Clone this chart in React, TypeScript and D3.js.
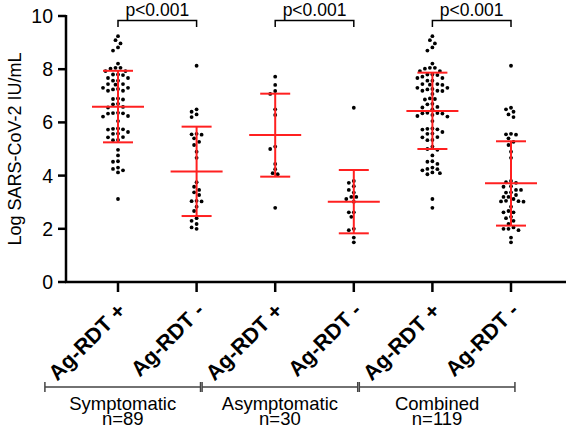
import React from "react";
import * as d3 from "d3";

const categories = ["Ag-RDT +", "Ag-RDT -", "Ag-RDT +", "Ag-RDT -", "Ag-RDT +", "Ag-RDT -"];
const groupNames = ["Symptomatic", "Asymptomatic", "Combined"];
const groupCounts = ["n=89", "n=30", "n=119"];
const yTicks = [0, 2, 4, 6, 8, 10];
const pLabels = ["p<0.001", "p<0.001", "p<0.001"];

const symPos = [
  9.24, 9.09, 8.97, 8.82, 8.7, 8.21,
  8.05, 8.05, 8.02, 7.93, 7.93,
  7.8, 7.8, 7.78, 7.67, 7.67,
  7.57, 7.57, 7.44, 7.44, 7.42,
  7.3, 7.3, 7.26, 7.24, 7.19, 7.19,
  6.9, 6.88, 6.86, 6.7, 6.68, 6.58, 6.56,
  6.36, 6.35, 6.34, 6.33, 6.24, 6.22, 6.05,
  5.77, 5.76, 5.74, 5.73, 5.64, 5.58, 5.57,
  5.45, 5.44, 5.34, 5.33,
  4.97, 4.76, 4.54, 4.52, 4.3, 4.25, 4.2, 4.12, 3.12,
];
const symNeg = [
  8.13, 6.49, 6.4, 6.3, 6.2, 5.57, 5.55, 5.54, 5.4, 5.27, 5.15, 4.9, 4.67,
  3.75, 3.58, 3.46, 3.37, 3.27, 3.05, 3.04, 3.03, 2.83, 2.67, 2.4, 2.3, 2.18, 2.05, 2.0,
];
const asymPos = [7.72, 7.41, 7.18, 7.07, 6.49, 6.28, 5.09, 5.0, 4.44, 4.24, 4.09, 4.05, 2.79];
const asymNeg = [
  6.55, 3.8, 3.73, 3.6, 3.46, 3.36, 3.2, 3.2, 3.12, 3.02, 2.62, 2.62, 2.45, 2.0, 1.95, 1.67, 1.49,
];

const means = [6.59, 4.15, 5.53, 3.02, 6.43, 3.71];
const sdHigh = [7.94, 5.84, 7.08, 4.21, 7.87, 5.29];
const sdLow = [5.25, 2.48, 3.96, 1.83, 5.0, 2.12];

const columns = [symPos, symNeg, asymPos, asymNeg, symPos.concat(asymPos), symNeg.concat(asymNeg)];

const W = 566;
const H = 428;
const FONT = "Liberation Sans, Arial, Helvetica, sans-serif";
const RED = "#ff2020";

function swarm(values: number[], cx: number, y: (v: number) => number) {
  const sorted = [...values].sort((a, b) => b - a);
  const placed: { x: number; y: number }[] = [];
  const minD = 4.6;
  const step = 2.5;
  for (const v of sorted) {
    const py = y(v);
    let chosen = cx;
    for (let k = 0; k < 40; k++) {
      const off = k === 0 ? 0 : Math.ceil(k / 2) * step * (k % 2 === 1 ? -1 : 1);
      const px = cx + off;
      const ok = placed.every((p) => Math.hypot(p.x - px, p.y - py) >= minD);
      if (ok) {
        chosen = px;
        break;
      }
    }
    placed.push({ x: chosen, y: py });
  }
  return placed;
}

export default function App() {
  const y = d3.scaleLinear().domain([0, 10]).range([282, 16]);
  const x = d3
    .scalePoint<number>()
    .domain(categories.map((_, i) => i))
    .range([118, 511]);
  const step = x.step();
  const axisX = 66;
  const axisY = y(0);

  return (
    <svg
      width={W}
      height={H}
      style={{ position: "absolute", left: 0, top: 0, background: "#fff" }}
      fontFamily={FONT}
    >
      <rect width={W} height={H} fill="#fff" />
      {/* y axis */}
      <line x1={axisX} x2={axisX} y1={y(10) - 1} y2={axisY + 1} stroke="#000" strokeWidth={2.5} />
      {yTicks.map((t) => (
        <g key={t}>
          <line x1={axisX - 8} x2={axisX} y1={y(t)} y2={y(t)} stroke="#000" strokeWidth={2.5} />
          <text x={axisX - 13} y={y(t)} dy="0.36em" textAnchor="end" fontSize={19.5}>
            {t}
          </text>
        </g>
      ))}
      <text transform={`translate(21,149) rotate(-90)`} textAnchor="middle" fontSize={18}>
        Log SARS-CoV-2 IU/mL
      </text>
      {/* x axis */}
      <line x1={axisX - 1} x2={W} y1={axisY} y2={axisY} stroke="#000" strokeWidth={2.5} />
      {categories.map((c, i) => (
        <g key={i}>
          <line x1={x(i)} x2={x(i)} y1={axisY} y2={axisY + 10} stroke="#000" strokeWidth={2.5} />
          <text
            transform={`translate(${(x(i) as number) + 9},${axisY + 30}) rotate(-45)`}
            textAnchor="end"
            fontSize={21.5}
            fontWeight="bold"
          >
            {c}
          </text>
        </g>
      ))}
      {/* points */}
      {columns.map((vals, i) =>
        swarm(vals, x(i) as number, y).map((p, j) => (
          <circle key={`${i}-${j}`} cx={p.x} cy={p.y} r={1.9} fill="#000" />
        ))
      )}
      {/* mean and SD */}
      {means.map((m, i) => {
        const cx = x(i) as number;
        return (
          <g key={i} stroke={RED} strokeWidth={2}>
            <line x1={cx} x2={cx} y1={y(sdHigh[i])} y2={y(sdLow[i])} />
            <line x1={cx - 26} x2={cx + 26} y1={y(m)} y2={y(m)} />
            <line x1={cx - 15} x2={cx + 15} y1={y(sdHigh[i])} y2={y(sdHigh[i])} />
            <line x1={cx - 15} x2={cx + 15} y1={y(sdLow[i])} y2={y(sdLow[i])} />
          </g>
        );
      })}
      {/* p-value brackets */}
      {pLabels.map((p, g) => {
        const a = x(g * 2) as number;
        const b = x(g * 2 + 1) as number;
        return (
          <g key={g}>
            <path d={`M${a},27V20.5H${b}V27`} fill="none" stroke="#000" strokeWidth={1.5} />
            <text x={(a + b) / 2} y={16} textAnchor="middle" fontSize={17.5}>
              {p}
            </text>
          </g>
        );
      })}
      {/* group brackets */}
      {groupNames.map((gname, g) => {
        const a = (x(g * 2) as number) - step * 0.93;
        const b = (x(g * 2 + 1) as number) + step * 0.05;
        const by = 387;
        const mid = (a + b) / 2;
        return (
          <g key={g}>
            <path
              d={`M${a},${by - 5}V${by + 5}M${a},${by}H${b}M${b},${by - 5}V${by + 5}`}
              fill="none"
              stroke="#444"
              strokeWidth={1.5}
            />
            <text x={mid} y={409.5} textAnchor="middle" fontSize={18.5}>
              {gname}
            </text>
            <text x={mid} y={425} textAnchor="middle" fontSize={18.5}>
              {groupCounts[g]}
            </text>
          </g>
        );
      })}
    </svg>
  );
}
